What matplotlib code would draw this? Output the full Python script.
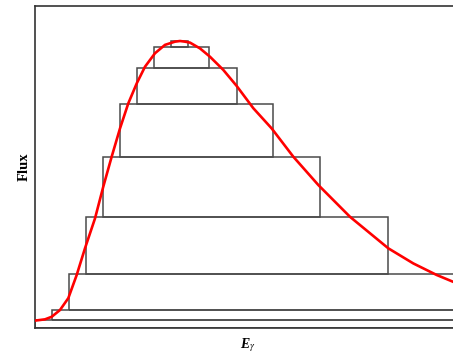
import matplotlib.pyplot as plt
from matplotlib.patches import Rectangle

plt.rcParams['mathtext.fontset'] = 'stix'

# spectrum curve (arbitrary energy units, relative flux)
energy = [0.0, 0.235, 0.393, 0.588, 0.784, 0.981, 1.176, 1.412, 1.607, 1.804,
          2.0, 2.195, 2.393, 2.588, 2.824, 3.059, 3.294, 3.412, 3.529, 3.647,
          3.882, 4.118, 4.431, 4.746, 5.136, 5.569, 6.078, 6.666, 7.412, 8.313,
          8.901, 9.452, 9.835, 10.0]
flux = [0.022, 0.026, 0.034, 0.055, 0.092, 0.164, 0.247, 0.340, 0.439, 0.532,
        0.620, 0.698, 0.760, 0.812, 0.854, 0.880, 0.890, 0.892, 0.890, 0.887,
        0.869, 0.843, 0.802, 0.752, 0.683, 0.620, 0.532, 0.444, 0.345, 0.247,
        0.200, 0.164, 0.143, 0.134]

# stacked energy bins, one layer per flux level
bin_lo = [0.0, 0.4, 0.8, 1.2, 1.6, 2.0, 2.4, 2.8, 3.2]
bin_hi = [10.5, 10.5, 10.5, 8.3, 6.7, 5.6, 4.75, 4.1, 3.6]
level = [0.023, 0.055, 0.167, 0.345, 0.532, 0.696, 0.808, 0.874, 0.891]

fig = plt.figure(figsize=(4.53, 3.54), dpi=100)
ax = fig.add_axes([35 / 453, 26.3 / 354, 425 / 453, 321.4 / 354])

base = 0.0
for lo, hi, top in zip(bin_lo, bin_hi, level):
    ax.add_patch(Rectangle((lo, base), hi - lo, top - base, fill=False,
                           edgecolor='#4a4a4a', linewidth=1.1, zorder=2))
    base = top

ax.plot(energy, flux, color='red', linewidth=1.9, zorder=3,
        solid_joinstyle='round', solid_capstyle='round')

ax.set_xlim(0, 10)
ax.set_ylim(0, 1)
ax.set_xticks([])
ax.set_yticks([])
for s in ax.spines.values():
    s.set_color('#333333')
    s.set_linewidth(1.2)

ax.set_ylabel('Flux', fontfamily='Liberation Serif', fontweight='bold',
              fontsize=10.5, labelpad=3)
ax.set_xlabel(r'E$_\gamma$', fontfamily='Liberation Serif', fontweight='bold',
              fontstyle='italic', fontsize=10, labelpad=6)

fig.savefig('out.png', dpi=100)
